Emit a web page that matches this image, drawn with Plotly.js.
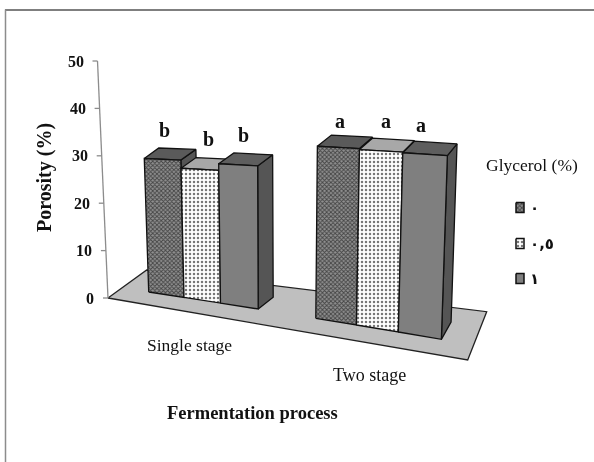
<!DOCTYPE html>
<html><head><meta charset="utf-8">
<script src="https://cdn.plot.ly/plotly-3.0.1.min.js"></script>
<style>html,body{margin:0;padding:0;background:#fff}#c{width:594px;height:462px;filter:blur(0.45px)}</style>
</head><body><div id="c"></div>
<script>
// ---- data ----
const categories = ['Single stage', 'Two stage'];
const seriesNames = ['٠', '٠,٥', '١'];
const singleStage = [30.2, 28.4, 29.8];
const twoStage = [34.5, 34.3, 34.2];
const singleLetters = ['b', 'b', 'b'];
const twoLetters = ['a', 'a', 'a'];
const yTicks = [0, 10, 20, 30, 40, 50];

// ---- oblique projection of the 3D chart box onto the page ----
const clusterStart = [0, 4.47];
function ground(u){ return [148.7 + 34.7*u + 0.6*u*u, 292 + 5.22*u + 0.149*u*u]; }
function proj(u, d, v){
  const g = ground(u);
  const lean = (-0.147 + 0.043*u)*v;
  const s = 4.42 + 0.127*u;
  const dx = 14.5 + 0.7*u - 0.18*u*u;
  const dy = 10.5 + 0.15*u + (1 - v/35)*0.1*u*u;
  return [g[0] + lean + d*dx, g[1] - s*v - d*dy];
}
function axisPt(v){ return [108 - 0.21*v, 298 - 4.74*v]; }

const traces = [];
function poly(pts, opts){
  const p = pts.concat([pts[0]]);
  traces.push(Object.assign({
    type:'scatter', mode:'lines', x:p.map(a=>a[0]), y:p.map(a=>a[1]),
    fill:'toself', hoverinfo:'skip', showlegend:false,
    line:{color:'#111', width:1.3}
  }, opts));
}
const frontStyles = [
  {fillcolor:'#707070', fillpattern:{shape:'x', bgcolor:'#909090', fgcolor:'#444', size:3, solidity:0.5}},
  {fillcolor:'#f0f0f0', fillpattern:{shape:'.', bgcolor:'#fff', fgcolor:'#777', size:4, solidity:0.3}},
  {fillcolor:'#7f7f7f'}
];
const topFills = ['#5a5a5a', '#a8a8a8', '#5e5e5e'];
const sideFills = ['#555', '#6a6a6a', '#555'];

// floor
poly([[108,298],[146.7,270],[486.7,311.7],[467.7,360]], {fillcolor:'#bfbfbf', line:{color:'#222', width:1.3}});

// y axis
traces.push({type:'scatter', mode:'lines', hoverinfo:'skip', showlegend:false,
  x:[axisPt(0)[0], axisPt(50)[0]], y:[axisPt(0)[1], axisPt(50)[1]], line:{color:'#8c8c8c', width:1.3}});
yTicks.forEach(t=>{ const a = axisPt(t);
  traces.push({type:'scatter', mode:'lines', hoverinfo:'skip', showlegend:false,
    x:[a[0]-5, a[0]], y:[a[1], a[1]], line:{color:'#8c8c8c', width:1.3}});
});

// bars
const annos = [];
const letterPos = [[[164,130],[208,139],[243,135]],[[340,121],[386,121],[421,125]]];
[singleStage, twoStage].forEach((vals, c)=>{
  vals.forEach((v, i)=>{
    const u0 = clusterStart[c] + i, u1 = u0 + 1;
    poly([proj(u1,0,0), proj(u1,1,0), proj(u1,1,v), proj(u1,0,v)], {fillcolor:sideFills[i]});
    poly([proj(u0,0,v), proj(u0,1,v), proj(u1,1,v), proj(u1,0,v)], {fillcolor:topFills[i]});
    poly([proj(u0,0,0), proj(u1,0,0), proj(u1,0,v), proj(u0,0,v)], frontStyles[i]);
    const p = letterPos[c][i];
    annos.push({x:p[0], y:p[1], text:'<b>'+(c?twoLetters:singleLetters)[i]+'</b>', showarrow:false,
      font:{family:'Liberation Serif', size:20, color:'#111'}, xanchor:'center', yanchor:'middle'});
  });
});

// tick labels
yTicks.forEach(t=>{ const a = axisPt(t);
  annos.push({x:a[0]-12, y:a[1], text:'<b>'+t+'</b>', showarrow:false, xanchor:'right', yanchor:'middle',
    font:{family:'Liberation Serif', size:16, color:'#111'}});
});

// legend
const legendY = [207.5, 243.5, 278.5];
seriesNames.forEach((n,i)=>{
  const y = legendY[i];
  poly([[516,y-5],[524,y-5],[524,y+5],[516,y+5]], Object.assign({}, frontStyles[i], {line:{color:'#111', width:1.5}}));
  annos.push({x:528, y:y, text:'<b>'+n+'</b>', showarrow:false, xanchor:'left', yanchor:'middle',
    font:{family:'DejaVu Sans', size:15, color:'#111'}});
});
annos.push({x:532, y:165, text:'Glycerol (%)', showarrow:false, font:{family:'Liberation Serif', size:17.5, color:'#111'}});
annos.push({x:189.5, y:345, text:categories[0], showarrow:false, font:{family:'Liberation Serif', size:17.5, color:'#111'}});
annos.push({x:369, y:375, text:categories[1], showarrow:false, font:{family:'Liberation Serif', size:18, color:'#111'}});
annos.push({x:252, y:413, text:'<b>Fermentation process</b>', showarrow:false, font:{family:'Liberation Serif', size:18.5, color:'#111'}});
annos.push({x:44, y:178, text:'<b>Porosity (%)</b>', textangle:-90, showarrow:false, font:{family:'Liberation Serif', size:20, color:'#111'}});

Plotly.newPlot('c', traces, {
  width:594, height:462, margin:{l:0,r:0,t:0,b:0}, showlegend:false,
  paper_bgcolor:'#fff', plot_bgcolor:'#fff',
  xaxis:{range:[0,594], visible:false, fixedrange:true},
  yaxis:{range:[462,0], visible:false, fixedrange:true},
  annotations:annos,
  shapes:[
    {type:'line', x0:5, y0:10, x1:594, y1:10, line:{color:'#7f7f7f', width:2}},
    {type:'line', x0:5.5, y0:9.5, x1:5.5, y1:462, line:{color:'#8c8c8c', width:1.5}}
  ]
}, {staticPlot:true, displayModeBar:false});
</script></body></html>
